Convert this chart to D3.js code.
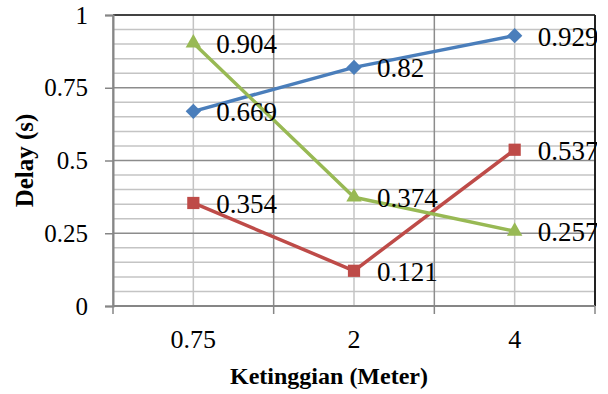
<!DOCTYPE html>
<html>
<head>
<meta charset="utf-8">
<script src="https://cdn.jsdelivr.net/npm/d3@7"></script>
<style>
  html, body { margin: 0; padding: 0; background: #fff; }
  svg { display: block; }
</style>
</head>
<body>
<svg id="chart" width="608" height="394"></svg>
<script>
// Delay per height, three measurement series
const categories = ["0.75", "2", "4"];
const seriesBlue = [0.669, 0.82, 0.929];
const seriesRed = [0.354, 0.121, 0.537];
const seriesGreen = [0.904, 0.374, 0.257];
const yTickValues = [0, 0.25, 0.5, 0.75, 1];
const yTickLabels = ["0", "0.25", "0.5", "0.75", "1"];
const xTitle = "Ketinggian (Meter)";
const yTitle = "Delay (s)";

const series = [
  { values: seriesBlue, color: "#4a7ebb", marker: d3.symbolDiamond2, size: 150 },
  { values: seriesRed, color: "#be4b48", marker: d3.symbolSquare2, size: 190 },
  { values: seriesGreen, color: "#98b954", marker: d3.symbolTriangle2, size: 170 }
];

const svg = d3.select("#chart");
const plotLeft = 113, plotRight = 595, plotTop = 15, plotBottom = 306;

const x = d3.scaleBand().domain(categories).range([plotLeft, plotRight]).padding(0);
const cx = c => x(c) + x.bandwidth() / 2;
const y = d3.scaleLinear().domain([0, 1]).range([plotBottom, plotTop]);

const grid = svg.append("g");
// minor horizontal lines every 0.05
grid.selectAll("line.hmin")
  .data(y.ticks(20).filter(v => !yTickValues.some(t => Math.abs(t - v) < 1e-9)))
  .join("line")
  .attr("x1", plotLeft).attr("x2", plotRight)
  .attr("y1", d => y(d)).attr("y2", d => y(d))
  .attr("stroke", "#c4c4c4").attr("stroke-width", 1.5);
// minor vertical lines at category centres
grid.selectAll("line.vmin")
  .data(categories)
  .join("line")
  .attr("x1", d => cx(d)).attr("x2", d => cx(d))
  .attr("y1", plotTop).attr("y2", plotBottom)
  .attr("stroke", "#c4c4c4").attr("stroke-width", 1.5);
// major horizontal lines
grid.selectAll("line.hmaj")
  .data(yTickValues)
  .join("line")
  .attr("x1", plotLeft).attr("x2", plotRight)
  .attr("y1", d => y(d)).attr("y2", d => y(d))
  .attr("stroke", "#8c8c8c").attr("stroke-width", 1.5);
// major vertical lines at category boundaries
const bounds = categories.map(c => x(c)).concat([plotRight]);
grid.selectAll("line.vmaj")
  .data(bounds)
  .join("line")
  .attr("x1", d => d).attr("x2", d => d)
  .attr("y1", plotTop).attr("y2", plotBottom)
  .attr("stroke", "#8c8c8c").attr("stroke-width", 1.5);

// plot frame: dark top and right edges
svg.append("line").attr("x1", plotLeft).attr("x2", plotRight).attr("y1", plotTop).attr("y2", plotTop)
  .attr("stroke", "#222").attr("stroke-width", 1.5);
svg.append("line").attr("x1", plotRight).attr("x2", plotRight).attr("y1", plotTop).attr("y2", plotBottom)
  .attr("stroke", "#222").attr("stroke-width", 2);

// y axis
const yAxis = svg.append("g")
  .attr("transform", `translate(${plotLeft},0)`)
  .call(d3.axisLeft(y).tickValues(yTickValues)
    .tickFormat((d, i) => yTickLabels[i]).tickSize(8).tickPadding(17));
yAxis.select(".domain").attr("stroke", "#868686").attr("stroke-width", 2);
yAxis.selectAll(".tick line").attr("stroke", "#868686").attr("stroke-width", 1.5);
yAxis.selectAll(".tick text")
  .attr("font-family", "'Liberation Serif', serif").attr("font-size", 25).attr("fill", "#000");

// x axis: labels centred on categories, ticks on boundaries
const xAxis = svg.append("g").attr("transform", `translate(0,${plotBottom})`);
xAxis.append("line").attr("x1", plotLeft).attr("x2", plotRight)
  .attr("stroke", "#868686").attr("stroke-width", 2);
xAxis.selectAll("line.xt")
  .data(bounds)
  .join("line")
  .attr("x1", d => d).attr("x2", d => d).attr("y1", 0).attr("y2", 8)
  .attr("stroke", "#868686").attr("stroke-width", 1.5);
xAxis.selectAll("text")
  .data(categories)
  .join("text")
  .attr("x", d => cx(d)).attr("y", 42)
  .attr("text-anchor", "middle")
  .attr("font-family", "'Liberation Serif', serif").attr("font-size", 26)
  .text(d => d);

// axis titles
svg.append("text")
  .attr("x", 329).attr("y", 384)
  .attr("text-anchor", "middle")
  .attr("font-family", "'Liberation Serif', serif").attr("font-weight", "bold").attr("font-size", 24)
  .text(xTitle);
svg.append("text")
  .attr("transform", `translate(33,${(plotTop + plotBottom) / 2}) rotate(-90)`)
  .attr("text-anchor", "middle")
  .attr("font-family", "'Liberation Serif', serif").attr("font-weight", "bold").attr("font-size", 25)
  .text(yTitle);

// series lines and markers
const line = d3.line().x((d, i) => cx(categories[i])).y(d => y(d));
series.forEach(s => {
  const g = svg.append("g");
  g.append("path").attr("d", line(s.values))
    .attr("fill", "none").attr("stroke", s.color).attr("stroke-width", 3.5)
    .attr("stroke-linejoin", "round");
  g.selectAll("path.m")
    .data(s.values)
    .join("path")
    .attr("transform", (d, i) => `translate(${cx(categories[i])},${y(d)})`)
    .attr("d", d3.symbol().type(s.marker).size(s.size))
    .attr("fill", s.color);
});

// value labels, clipped at the chart edge
svg.append("clipPath").attr("id", "chartClip")
  .append("rect").attr("x", 0).attr("y", 0).attr("width", 597).attr("height", 394);
const labels = svg.append("g").attr("clip-path", "url(#chartClip)");
series.forEach(s => {
  labels.selectAll(null)
    .data(s.values)
    .join("text")
    .attr("x", (d, i) => cx(categories[i]) + 23)
    .attr("y", d => y(d) + 10)
    .attr("font-family", "'Liberation Serif', serif").attr("font-size", 27).attr("fill", "#000")
    .text(d => String(d));
});
</script>
</body>
</html>
